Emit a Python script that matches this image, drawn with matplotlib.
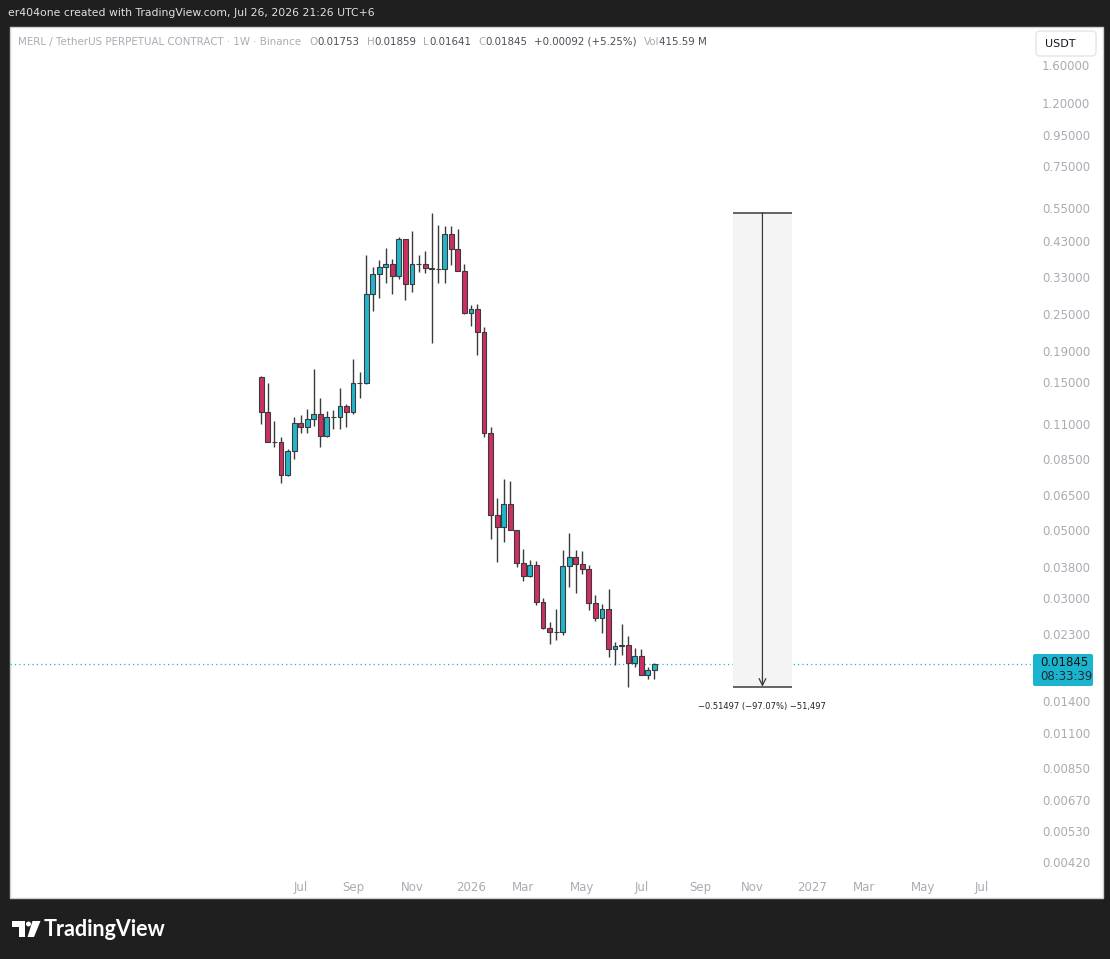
import datetime as dt
import matplotlib
matplotlib.use("Agg")
import matplotlib.pyplot as plt
import matplotlib.patches as mpatches
import matplotlib.transforms as mtransforms
from matplotlib.ticker import FixedLocator, NullLocator

W, H = 1110, 959

# weekly MERL/USDT candles, first bar = week of 2025-05-26
start = dt.date(2025, 5, 26)
opens = [0.156, 0.120, 0.0962, 0.0960, 0.0750, 0.0900, 0.1106, 0.1078, 0.1138, 0.1182,
         0.1008, 0.1157, 0.1155, 0.1258, 0.1201, 0.1491, 0.1495, 0.2894, 0.3363, 0.3535,
         0.3616, 0.3314, 0.4356, 0.3115, 0.3616, 0.3625, 0.3510, 0.3480, 0.3490, 0.4520,
         0.4040, 0.3440, 0.2520, 0.2585, 0.2187, 0.1031, 0.0557, 0.0509, 0.0605, 0.0499,
         0.0391, 0.0354, 0.0384, 0.0291, 0.0241, 0.0234, 0.0233, 0.0382, 0.0408, 0.0387,
         0.0373, 0.0289, 0.0260, 0.0278, 0.0205, 0.0211, 0.0212, 0.0186, 0.0195, 0.0170,
         0.01753]
highs = [0.157, 0.149, 0.1125, 0.0998, 0.0911, 0.1157, 0.1176, 0.1230, 0.1653, 0.1332,
         0.1212, 0.1220, 0.1436, 0.1277, 0.1781, 0.1616, 0.3875, 0.3535, 0.3735, 0.4076,
         0.3750, 0.4420, 0.4370, 0.4634, 0.3875, 0.3990, 0.5305, 0.4845, 0.4810, 0.4810,
         0.4690, 0.3616, 0.2670, 0.2684, 0.2260, 0.1073, 0.0632, 0.0730, 0.0719, 0.0500,
         0.0433, 0.0398, 0.0397, 0.0300, 0.0251, 0.0278, 0.0430, 0.0487, 0.0430, 0.0427,
         0.0384, 0.0307, 0.0288, 0.0321, 0.0217, 0.0248, 0.0227, 0.0208, 0.0206, 0.0180,
         0.01859]
lows = [0.110, 0.0960, 0.0929, 0.0710, 0.0748, 0.0845, 0.1026, 0.1026, 0.1084, 0.0924,
        0.0998, 0.1062, 0.1058, 0.1078, 0.1185, 0.1332, 0.1480, 0.2559, 0.2819, 0.3152,
        0.2894, 0.3240, 0.2770, 0.2947, 0.3405, 0.3385, 0.2016, 0.3152, 0.3152, 0.3597,
        0.3430, 0.2496, 0.2290, 0.1840, 0.1000, 0.0466, 0.0394, 0.0458, 0.0498, 0.0378,
        0.0342, 0.0353, 0.0285, 0.0238, 0.0213, 0.0220, 0.0228, 0.0326, 0.0312, 0.0360,
        0.0276, 0.0254, 0.0232, 0.0194, 0.0182, 0.0196, 0.01553, 0.0180, 0.0170, 0.0164,
        0.01641]
closes = [0.120, 0.0962, 0.0960, 0.0750, 0.0900, 0.1106, 0.1078, 0.1138, 0.1182, 0.1008,
          0.1157, 0.1155, 0.1258, 0.1201, 0.1491, 0.1495, 0.2894, 0.3363, 0.3535, 0.3616,
          0.3314, 0.4356, 0.3115, 0.3616, 0.3625, 0.3510, 0.3480, 0.3490, 0.4520, 0.4040,
          0.3440, 0.2520, 0.2585, 0.2187, 0.1031, 0.0557, 0.0509, 0.0605, 0.0499, 0.0391,
          0.0354, 0.0384, 0.0291, 0.0241, 0.0234, 0.0233, 0.0382, 0.0408, 0.0387, 0.0373,
          0.0289, 0.0260, 0.0278, 0.0205, 0.0211, 0.0212, 0.0186, 0.0195, 0.0170, 0.01753,
          0.01845]

volume_txt = "415.59 M"
countdown = "08:33:39"
price_ticks = [1.6, 1.2, 0.95, 0.75, 0.55, 0.43, 0.33, 0.25, 0.19, 0.15, 0.11, 0.085,
               0.065, 0.05, 0.038, 0.03, 0.023, 0.014, 0.011, 0.0085, 0.0067, 0.0053, 0.0042]
measure_top = 0.5305
measure_bottom = 0.01553
measure_label = "\u22120.51497 (\u221297.07%) \u221251,497"
header = "er404one created with TradingView.com, Jul 26, 2026 21:26 UTC+6"
symbol = "MERL / TetherUS PERPETUAL CONTRACT \u00b7 1W \u00b7 Binance"

UP = "#22b5cb"
DOWN = "#cc2f62"
EDGE = "#3b3b3b"
LIGHT = "#a9acb4"
DARK = "#4c4f58"
BG = "#1f1f1f"

fig = plt.figure(figsize=(W / 100, H / 100), dpi=100, facecolor=BG)
# pixel coords measured from the top-left corner
px = mtransforms.Affine2D().scale(1 / W, -1 / H).translate(0, 1) + fig.transFigure

fig.add_artist(mpatches.Rectangle((10, 27), 1093, 871, transform=px, facecolor="white",
                                  edgecolor="#cfcfcf", lw=1, zorder=-5))

ax = fig.add_axes([10 / W, 1 - 875 / H, 1021 / W, 848 / H])
ax.set_facecolor("none")
ax.set_yscale("log")
ax.set_ylim(0.003818, 2.119)
ax.set_xlim(-38.37, 117.5)
for s in ax.spines.values():
    s.set_visible(False)

# candles
for i, (o, h, l, c) in enumerate(zip(opens, highs, lows, closes)):
    col = UP if c >= o else DOWN
    ax.vlines(i, l, h, color=EDGE, lw=1, zorder=2)
    lo, hi = min(o, c), max(o, c)
    ax.add_patch(mpatches.Rectangle((i - 0.37, lo), 0.74, hi - lo, facecolor=col,
                                    edgecolor=EDGE, lw=0.8, zorder=3))

# last price line
ax.axhline(closes[-1], color=UP, lw=0.9, ls=(0, (1, 2.5)), zorder=1)

# measure tool
ax.add_patch(mpatches.Rectangle((72, measure_bottom), 9, measure_top - measure_bottom,
                                facecolor="#f4f4f4", edgecolor="none", zorder=1))
ax.hlines([measure_top, measure_bottom], 72, 81, color="#4a4a4a", lw=1.2, zorder=2)
ax.annotate("", xy=(76.5, measure_bottom), xytext=(76.5, measure_top),
            arrowprops=dict(arrowstyle="->", color="#3a3a3a", lw=0.9, shrinkA=0, shrinkB=0,
                            mutation_scale=12), zorder=3)
ax.text(76.5, 0.01345, measure_label, ha="center", va="center", fontsize=6, color="#222222")

# axes ticks
ax.yaxis.tick_right()
ax.yaxis.set_major_locator(FixedLocator(price_ticks))
ax.yaxis.set_minor_locator(NullLocator())
ax.set_yticklabels([f"{v:.5f}" for v in price_ticks])
ax.tick_params(axis="y", length=0, pad=8, labelsize=8.5, labelcolor=LIGHT)

xt, xl = [], []
for y, m in [(2025, 7), (2025, 9), (2025, 11), (2026, 1), (2026, 3), (2026, 5), (2026, 7),
             (2026, 9), (2026, 11), (2027, 1), (2027, 3), (2027, 5), (2027, 7)]:
    d = dt.date(y, m, 1)
    d = d + dt.timedelta(days=(7 - d.weekday()) % 7)
    xt.append((d - start).days / 7)
    xl.append(str(y) if m == 1 else d.strftime("%b"))
ax.set_xticks(xt)
ax.set_xticklabels(xl)
ax.tick_params(axis="x", length=0, pad=4, labelsize=8.5, labelcolor=LIGHT)

# header texts
fig.text(8, 13, header, transform=px, fontsize=7.8, color="#e0e0e0", va="center")
o, h, l, c = opens[-1], highs[-1], lows[-1], closes[-1]
chg = c - o
pieces = [("O", LIGHT, 6), (f"{o:.5f}", DARK, 0), ("H", LIGHT, 5), (f"{h:.5f}", DARK, 0),
          ("L", LIGHT, 5), (f"{l:.5f}", DARK, 0), ("C", LIGHT, 5), (f"{c:.5f}", DARK, 0),
          (f"{chg:+.5f} ({chg / o * 100:+.2f}%)", DARK, 5), ("Vol", LIGHT, 5),
          (volume_txt, DARK, 0)]
prev = fig.text(18, 42, symbol, transform=px, fontsize=7.4, color=LIGHT, va="center")
for s, col, gap in pieces:
    prev = ax.annotate(s, xy=(1, 0), xycoords=prev, xytext=(gap, 0),
                       textcoords="offset points", fontsize=7.4, color=col, va="bottom")

# currency button
fig.add_artist(mpatches.FancyBboxPatch((1036, 31), 60, 25, transform=px,
                                       boxstyle="round,pad=0,rounding_size=4",
                                       facecolor="white", edgecolor="#e3e5ea", lw=1))
fig.text(1045, 44, "USDT", transform=px, fontsize=8, color="#131722", va="center")

# last price label
fig.add_artist(mpatches.FancyBboxPatch((1033, 654), 60, 32, transform=px,
                                       boxstyle="round,pad=0,rounding_size=2",
                                       facecolor="#1ab4cf", edgecolor="none"))
fig.text(1040, 663, f"{closes[-1]:.5f}", transform=px, fontsize=8.5, color="#111111",
         va="center")
fig.text(1040, 677, countdown, transform=px, fontsize=8.5, color="#1b2a33", va="center")

# TradingView logo
fig.add_artist(mpatches.Polygon([(12, 921), (25, 921), (25, 937), (18.5, 937), (18.5, 927),
                                 (12, 927)], closed=True, transform=px, facecolor="white",
                                edgecolor="none"))
fig.add_artist(mpatches.Circle((28.5, 924), 2.5, transform=px, facecolor="white",
                               edgecolor="none"))
fig.add_artist(mpatches.Polygon([(32.5, 921), (40.5, 921), (34, 937), (27.5, 937)],
                                closed=True, transform=px, facecolor="white",
                                edgecolor="none"))
fig.text(44, 929, "TradingView", transform=px, fontsize=15.5, fontweight="bold",
         family=["Lato", "DejaVu Sans"], color="white", va="center")

fig.savefig("out.png", dpi=100, facecolor=BG)
